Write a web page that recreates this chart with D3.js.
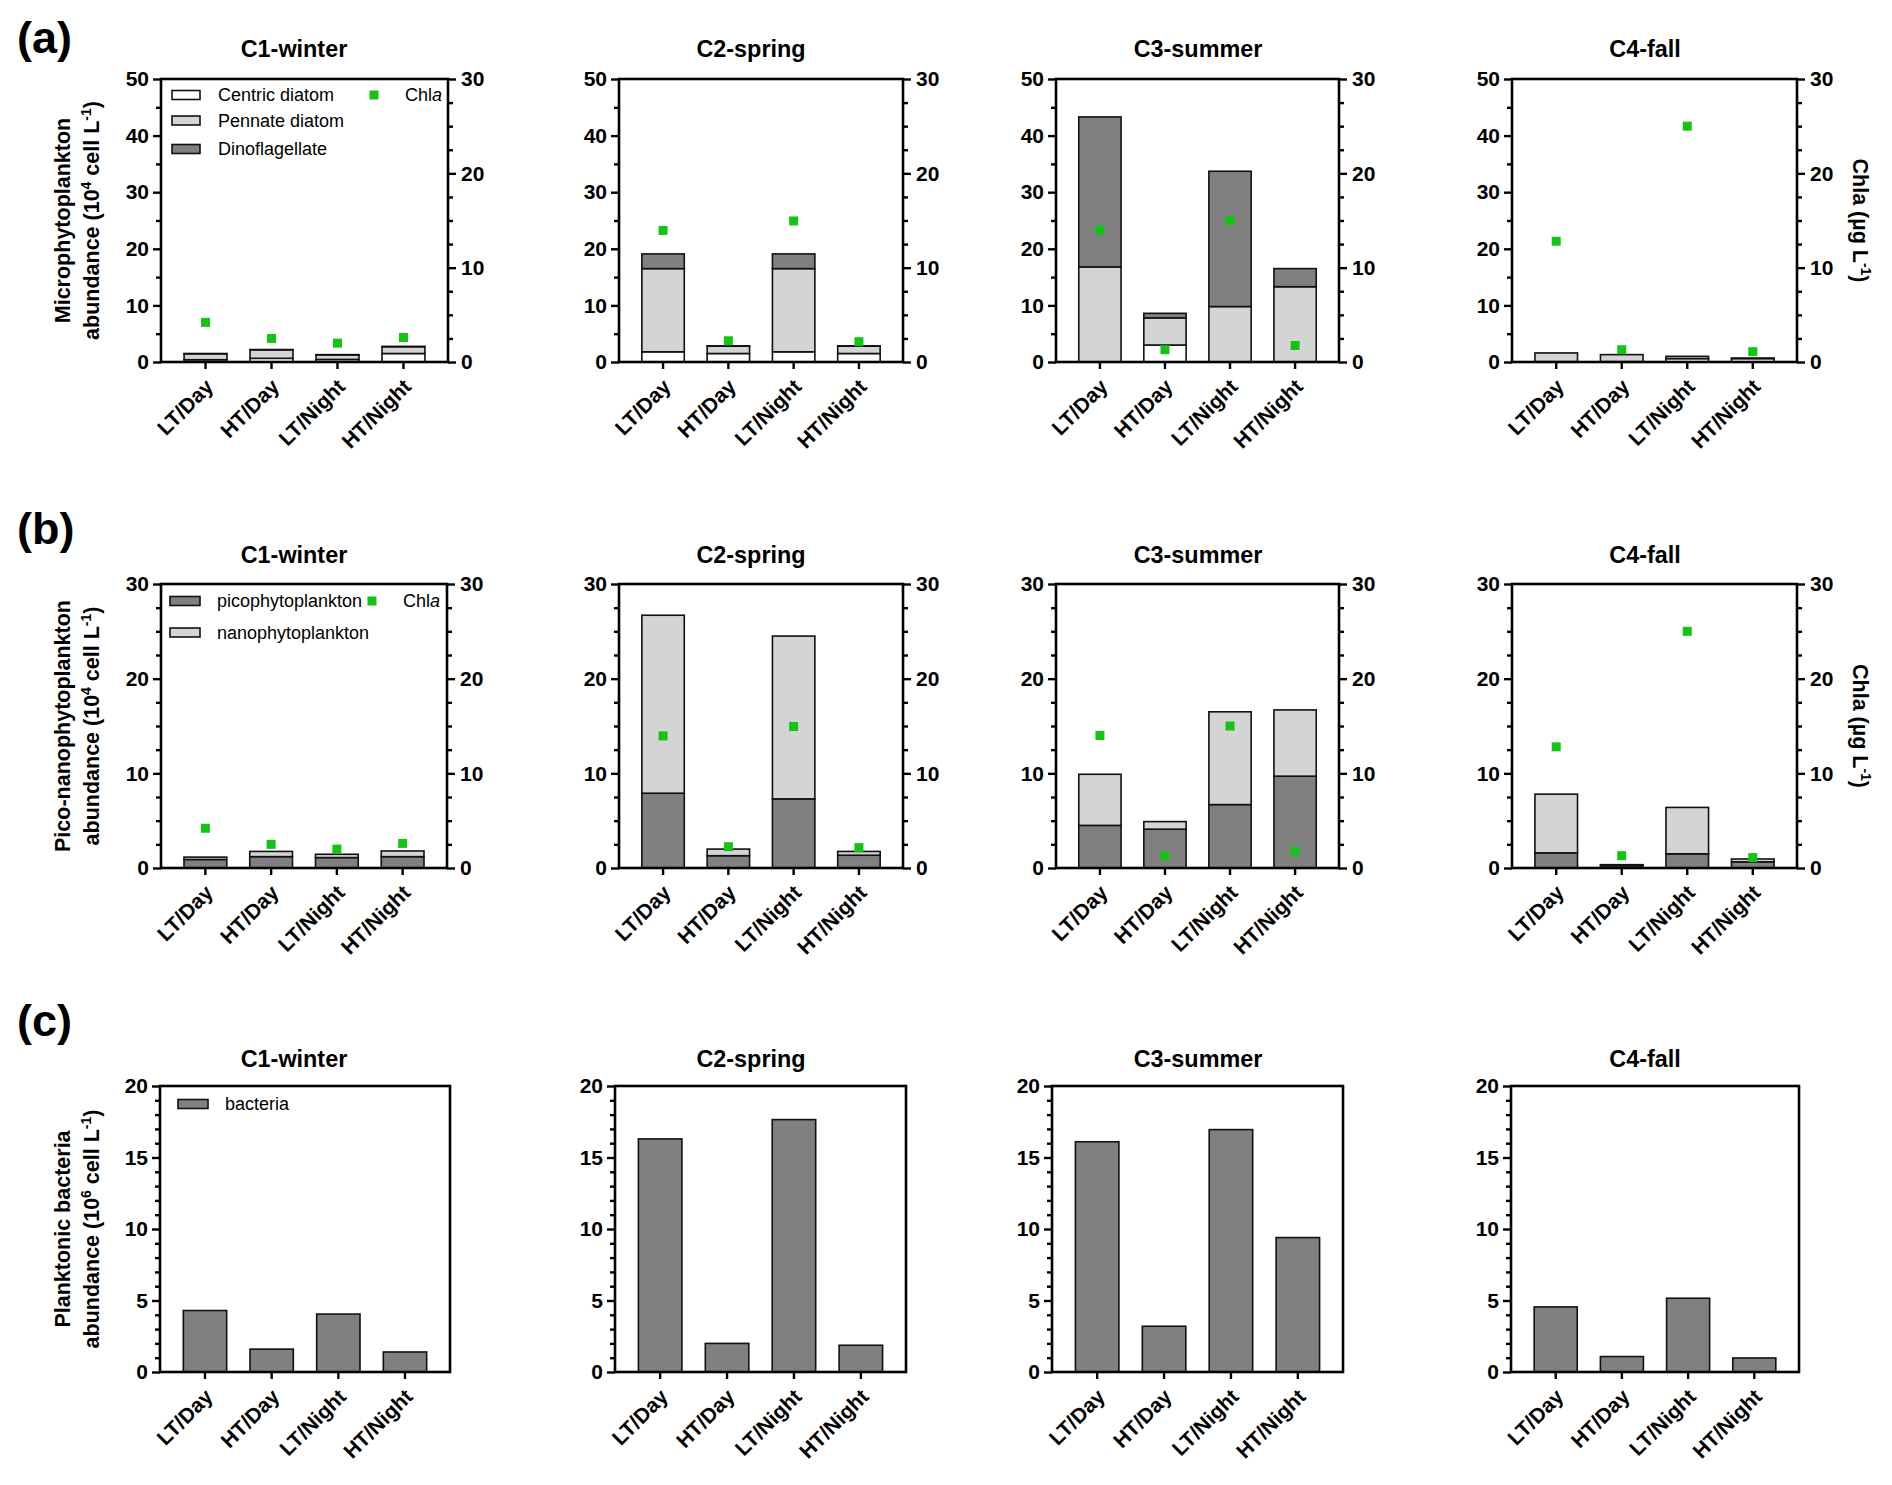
<!DOCTYPE html>
<html><head><meta charset="utf-8">
<script src="https://cdn.jsdelivr.net/npm/d3@7/dist/d3.min.js"></script>
<style>
body{margin:0;background:#fff}
svg{display:block;font-family:"Liberation Sans",Arial,Helvetica,sans-serif}
</style>
</head><body>
<svg id="chart" width="1892" height="1485"></svg>
<script>
// ---------------- DATA ----------------
const periods = ["LT/Day", "HT/Day", "LT/Night", "HT/Night"];
const seasons = ["C1-winter", "C2-spring", "C3-summer", "C4-fall"];

// (a) microphytoplankton, 10^4 cell/L  [season][period]
const centric = [[0.4, 0.65, 0.45, 1.5], [1.8, 1.5, 1.8, 1.5], [0, 3.0, 0, 0], [0.05, 0.05, 0.6, 0.6]];
const pennate = [[1.05, 1.5, 0.8, 1.2], [14.7, 1.3, 14.7, 1.3], [16.8, 4.8, 9.8, 13.3], [1.55, 1.25, 0.4, 0.1]];
const dino    = [[0.05, 0.05, 0.05, 0.05], [2.6, 0.05, 2.6, 0.05], [26.5, 0.8, 23.9, 3.2], [0, 0, 0, 0]];

// (b) pico-/nanophytoplankton, 10^4 cell/L
const pico = [[0.9, 1.2, 1.1, 1.2], [7.9, 1.3, 7.3, 1.35], [4.5, 4.1, 6.7, 9.7], [1.6, 0.25, 1.5, 0.65]];
const nano = [[0.25, 0.55, 0.35, 0.6], [18.8, 0.7, 17.2, 0.4], [5.4, 0.8, 9.8, 7.0], [6.2, 0.1, 4.9, 0.3]];

// (c) bacteria, 10^6 cell/L
const bacteria = [[4.3, 1.6, 4.05, 1.4], [16.3, 2.0, 17.65, 1.87], [16.1, 3.2, 16.95, 9.4], [4.55, 1.08, 5.16, 0.98]];

// Chl a, µg/L
const chla = [[4.2, 2.5, 2.0, 2.6], [13.95, 2.25, 14.95, 2.15], [14.0, 1.3, 15.0, 1.75], [12.8, 1.3, 25.0, 1.1]];

// tick labels
const ticksA = [0, 10, 20, 30, 40, 50];
const ticksB = [0, 10, 20, 30];
const ticksC = [0, 5, 10, 15, 20];
const ticksChla = [0, 10, 20, 30];

const legendA = ["Centric diatom", "Pennate diatom", "Dinoflagellate"];
const legendB = ["picophytoplankton", "nanophytoplankton"];
const legendC = ["bacteria"];

// ---------------- LAYOUT / STYLE ----------------
const WHITE = "#ffffff", LIGHT = "#d4d4d4", DARK = "#808080", GREEN = "#14c414";
const LW = 2.6;
const FONT_TICK = 21, FONT_TITLE = 23.4, FONT_LAB = 21.5, FONT_LEG = 18;
const rows = {
  a: {L: [161, 619, 1056, 1512], R: [448, 903, 1339, 1797], T: 79, B: 362, titleY: 57},
  b: {L: [161, 619, 1056, 1512], R: [447, 903, 1339, 1797], T: 584, B: 868, titleY: 563},
  c: {L: [160, 615, 1052, 1511], R: [450, 906, 1343, 1799], T: 1086, B: 1372, titleY: 1067}
};
const titleX = [294, 751, 1198, 1645];

const svg = d3.select("#chart");

function minorOf(major, step) {
  const mx = d3.max(major);
  return d3.range(step, mx, step).filter(v => !major.some(m => Math.abs(m - v) < 1e-9));
}

function styleAxis(sel) {
  sel.select(".domain").remove();
  sel.attr("font-family", null).attr("font-size", FONT_TICK).attr("font-weight", "bold");
  sel.selectAll(".tick line").attr("stroke", "#000").attr("stroke-width", 2.4);
  sel.selectAll(".tick text").attr("fill", "#000");
}

function rich(textSel, parts) {
  parts.forEach((p, i) => {
    const t = textSel.append("tspan").text(p.t);
    if (p.sup) t.attr("font-size", "65%").attr("dy", -8);
    else if (i > 0 && parts[i - 1].sup) t.attr("dy", 8);
    if (p.it) t.attr("font-style", "italic");
  });
}

function drawPanel(rowKey, i, cfg) {
  const r = rows[rowKey];
  const L = r.L[i], R = r.R[i], T = r.T, B = r.B;
  const g = svg.append("g");
  const x = d3.scaleBand().domain(periods).range([L, R]).paddingInner(0.35).paddingOuter(0.35);
  const y = d3.scaleLinear().domain([0, d3.max(cfg.major)]).range([B, T]);

  // stacked bars
  const table = periods.map((p, j) => {
    const o = {period: p};
    cfg.keys.forEach((k, n) => o[k] = cfg.layers[n][i][j]);
    return o;
  });
  const stacked = d3.stack().keys(cfg.keys)(table);
  g.selectAll("g.layer").data(stacked).join("g")
    .attr("fill", (d, n) => cfg.fills[n])
    .selectAll("rect").data(d => d.filter(s => s[1] - s[0] > 0)).join("rect")
    .attr("x", d => x(d.data.period))
    .attr("width", x.bandwidth())
    .attr("y", d => y(d[1]))
    .attr("height", d => y(d[0]) - y(d[1]))
    .attr("stroke", "#111").attr("stroke-width", 1.6);

  // left axis
  g.append("g").attr("transform", `translate(${L},0)`)
    .call(d3.axisLeft(y).tickValues(cfg.major).tickSize(8).tickPadding(4).tickSizeOuter(0))
    .call(styleAxis);
  g.append("g").attr("transform", `translate(${L},0)`)
    .call(d3.axisLeft(y).tickValues(minorOf(cfg.major, cfg.minorStep)).tickSize(5).tickFormat("").tickSizeOuter(0))
    .call(styleAxis);

  // bottom axis
  const xa = g.append("g").attr("transform", `translate(0,${B})`)
    .call(d3.axisBottom(x).tickSize(7).tickSizeOuter(0))
    .call(styleAxis);
  xa.selectAll(".tick text")
    .attr("x", null).attr("y", null).attr("dy", null)
    .attr("text-anchor", "end")
    .attr("transform", "translate(9,26) rotate(-45)");

  // chla on right axis
  if (cfg.chla) {
    const yc = d3.scaleLinear().domain([0, 30]).range([B, T]);
    g.append("g").attr("transform", `translate(${R},0)`)
      .call(d3.axisRight(yc).tickValues(ticksChla).tickSize(8).tickPadding(5).tickSizeOuter(0))
      .call(styleAxis);
    g.append("g").attr("transform", `translate(${R},0)`)
      .call(d3.axisRight(yc).tickValues(minorOf(ticksChla, 2.5)).tickSize(5).tickFormat("").tickSizeOuter(0))
      .call(styleAxis);
    const s = 9;
    g.selectAll("rect.chla").data(chla[i]).join("rect").attr("class", "chla")
      .attr("x", (d, j) => x(periods[j]) + x.bandwidth() / 2 - s / 2)
      .attr("y", d => yc(d) - s / 2)
      .attr("width", s).attr("height", s).attr("fill", GREEN);
    if (i === 3) {
      const t = g.append("text")
        .attr("transform", `translate(1853,${(T + B) / 2}) rotate(90)`)
        .attr("text-anchor", "middle").attr("font-size", FONT_LAB).attr("font-weight", "bold");
      rich(t, [{t: "Chla (µg L"}, {t: "-1", sup: true}, {t: ")"}]);
    }
  }

  // frame
  g.append("rect").attr("x", L).attr("y", T).attr("width", R - L).attr("height", B - T)
    .attr("fill", "none").attr("stroke", "#000").attr("stroke-width", LW);

  // title
  g.append("text").attr("x", titleX[i]).attr("y", r.titleY).attr("text-anchor", "middle")
    .attr("font-size", FONT_TITLE).attr("font-weight", "bold").text(seasons[i]);

  // y label
  if (i === 0) {
    const cy = (T + B) / 2;
    g.append("text").attr("transform", `translate(70,${cy}) rotate(-90)`)
      .attr("text-anchor", "middle").attr("font-size", FONT_LAB).attr("font-weight", "bold")
      .text(cfg.label1);
    const t2 = g.append("text").attr("transform", `translate(99,${cy}) rotate(-90)`)
      .attr("text-anchor", "middle").attr("font-size", FONT_LAB).attr("font-weight", "bold");
    rich(t2, cfg.label2);

    // legend
    cfg.legend.forEach((name, n) => {
      const ly = T + cfg.legY[n];
      g.append("rect").attr("x", L + cfg.legX).attr("y", ly - 4.5).attr("width", cfg.legW).attr("height", 9)
        .attr("fill", cfg.fills[cfg.legOrder[n]]).attr("stroke", "#111").attr("stroke-width", 1.6);
      g.append("text").attr("x", L + cfg.legTX).attr("y", ly).attr("dy", "0.35em")
        .attr("font-size", FONT_LEG).text(name);
    });
    if (cfg.chla) {
      const ly = T + cfg.legY[0];
      g.append("rect").attr("x", L + cfg.chlaSX - 4.5).attr("y", ly - 4.5).attr("width", 9).attr("height", 9).attr("fill", GREEN);
      const t = g.append("text").attr("x", L + cfg.chlaTX).attr("y", ly).attr("dy", "0.35em")
        .attr("text-anchor", "end").attr("font-size", FONT_LEG);
      rich(t, [{t: "Chl"}, {t: "a", it: true}]);
    }
  }
}

for (let i = 0; i < 4; i++) {
  drawPanel("a", i, {
    major: ticksA, minorStep: 5, keys: ["centric", "pennate", "dino"],
    layers: [centric, pennate, dino], fills: [WHITE, LIGHT, DARK], chla: true,
    label1: "Microphytoplankton",
    label2: [{t: "abundance (10"}, {t: "4", sup: true}, {t: " cell L"}, {t: "-1", sup: true}, {t: ")"}],
    legend: legendA, legOrder: [0, 1, 2], legX: 11, legW: 28, legTX: 57, legY: [16, 41.5, 70],
    chlaSX: 213, chlaTX: 281
  });
  drawPanel("b", i, {
    major: ticksB, minorStep: 2.5, keys: ["pico", "nano"],
    layers: [pico, nano], fills: [DARK, LIGHT], chla: true,
    label1: "Pico-nanophytoplankton",
    label2: [{t: "abundance (10"}, {t: "4", sup: true}, {t: " cell L"}, {t: "-1", sup: true}, {t: ")"}],
    legend: legendB, legOrder: [0, 1], legX: 9, legW: 30, legTX: 56, legY: [17, 48.5],
    chlaSX: 211, chlaTX: 279
  });
  drawPanel("c", i, {
    major: ticksC, minorStep: 1, keys: ["bacteria"],
    layers: [bacteria], fills: [DARK], chla: false,
    label1: "Planktonic bacteria",
    label2: [{t: "abundance (10"}, {t: "6", sup: true}, {t: " cell L"}, {t: "-1", sup: true}, {t: ")"}],
    legend: legendC, legOrder: [0], legX: 18, legW: 30, legTX: 65, legY: [18]
  });
}

// panel letters
[["(a)", 53], ["(b)", 544], ["(c)", 1036]].forEach(([t, yy]) => {
  svg.append("text").attr("x", 17).attr("y", yy).attr("font-size", 45).attr("font-weight", "bold").text(t);
});
</script>
</body></html>
